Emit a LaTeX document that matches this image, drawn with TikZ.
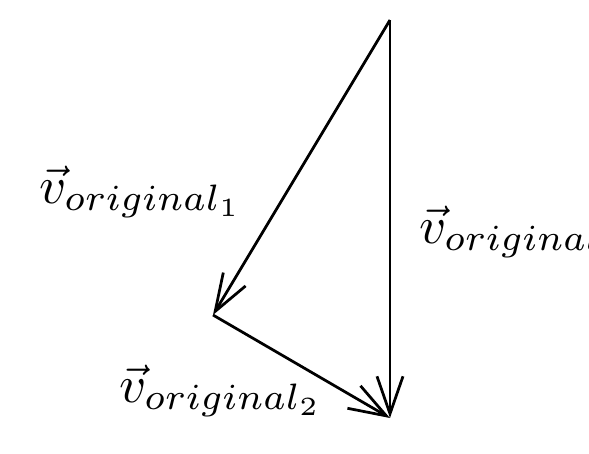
\documentclass[tikz,border=0pt]{standalone}
\usetikzlibrary{arrows.meta}
\begin{document}
\begin{tikzpicture}[x=0.2pt,y=-0.2pt,
  vec/.style={line width=0.55pt, -{Straight Barb[length=7.5pt,width=5.2pt]}},
  lbl/.style={anchor=base west, inner sep=0pt, text=black, scale=1.05}]
\useasboundingbox (0,0) rectangle (589,454);
\clip (0,0) rectangle (589,454);
\coordinate (top) at (390,20);
\coordinate (left) at (213,315);
\coordinate (bot) at (390,418);
\draw[vec] (top) -- (left);
\draw[vec] (left) -- (bot);
\draw[vec] (top) -- (bot);
\node[lbl] (l1) at (38,203) {$\vec{v}_{original_1}$};
\node[lbl] (l2) at (118,402) {$\vec{v}_{original_2}$};
\node[lbl] (l3) at (418,243) {$\vec{v}_{original}$};
\end{tikzpicture}
\end{document}
